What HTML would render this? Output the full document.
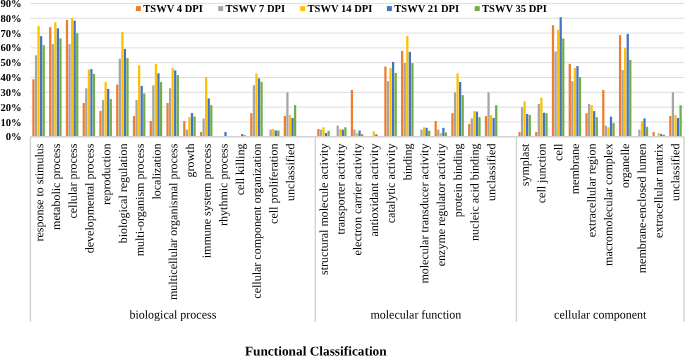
<!DOCTYPE html><html><head><meta charset="utf-8"><title>Functional Classification</title>
<style>html,body{margin:0;padding:0;background:#fff}svg{display:block;will-change:transform}text{font-family:"Liberation Serif","Times New Roman",serif;fill:#000;text-rendering:geometricPrecision}</style></head><body>
<svg width="685" height="356" viewBox="0 0 685 356">
<rect width="685" height="356" fill="#fff"/>
<g stroke="#DDDDDD" stroke-width="1" fill="none">
<line x1="30.4" y1="121.94" x2="684.04" y2="121.94"/>
<line x1="30.4" y1="107.12" x2="684.04" y2="107.12"/>
<line x1="30.4" y1="92.31" x2="684.04" y2="92.31"/>
<line x1="30.4" y1="77.49" x2="684.04" y2="77.49"/>
<line x1="30.4" y1="62.67" x2="684.04" y2="62.67"/>
<line x1="30.4" y1="47.86" x2="684.04" y2="47.86"/>
<line x1="30.4" y1="33.05" x2="684.04" y2="33.05"/>
<line x1="30.4" y1="18.23" x2="684.04" y2="18.23"/>
<line x1="30.4" y1="3.41" x2="684.04" y2="3.41"/>
</g>
<rect x="32.34" y="79.27" width="2.25" height="57.48" fill="#ED7D31"/>
<rect x="34.90" y="55.27" width="2.25" height="81.48" fill="#A5A5A5"/>
<rect x="37.46" y="25.93" width="2.25" height="110.82" fill="#FFC000"/>
<rect x="40.02" y="36.16" width="2.25" height="100.59" fill="#4472C4"/>
<rect x="42.58" y="45.19" width="2.25" height="91.56" fill="#70AD47"/>
<rect x="49.10" y="27.12" width="2.25" height="109.63" fill="#ED7D31"/>
<rect x="51.66" y="44.01" width="2.25" height="92.74" fill="#A5A5A5"/>
<rect x="54.22" y="22.23" width="2.25" height="114.52" fill="#FFC000"/>
<rect x="56.78" y="28.30" width="2.25" height="108.45" fill="#4472C4"/>
<rect x="59.34" y="38.38" width="2.25" height="98.37" fill="#70AD47"/>
<rect x="65.86" y="20.01" width="2.25" height="116.74" fill="#ED7D31"/>
<rect x="68.42" y="44.01" width="2.25" height="92.74" fill="#A5A5A5"/>
<rect x="70.98" y="18.08" width="2.25" height="118.67" fill="#FFC000"/>
<rect x="73.54" y="20.60" width="2.25" height="116.15" fill="#4472C4"/>
<rect x="76.10" y="33.19" width="2.25" height="103.56" fill="#70AD47"/>
<rect x="82.62" y="102.97" width="2.25" height="33.78" fill="#ED7D31"/>
<rect x="85.18" y="88.30" width="2.25" height="48.45" fill="#A5A5A5"/>
<rect x="87.74" y="69.49" width="2.25" height="67.26" fill="#FFC000"/>
<rect x="90.30" y="69.05" width="2.25" height="67.70" fill="#4472C4"/>
<rect x="92.86" y="73.93" width="2.25" height="62.82" fill="#70AD47"/>
<rect x="99.38" y="110.97" width="2.25" height="25.78" fill="#ED7D31"/>
<rect x="101.94" y="100.01" width="2.25" height="36.74" fill="#A5A5A5"/>
<rect x="104.50" y="81.93" width="2.25" height="54.82" fill="#FFC000"/>
<rect x="107.06" y="88.90" width="2.25" height="47.85" fill="#4472C4"/>
<rect x="109.62" y="98.97" width="2.25" height="37.78" fill="#70AD47"/>
<rect x="116.14" y="84.60" width="2.25" height="52.15" fill="#ED7D31"/>
<rect x="118.70" y="58.67" width="2.25" height="78.08" fill="#A5A5A5"/>
<rect x="121.26" y="32.01" width="2.25" height="104.74" fill="#FFC000"/>
<rect x="123.82" y="48.90" width="2.25" height="87.85" fill="#4472C4"/>
<rect x="126.38" y="58.08" width="2.25" height="78.67" fill="#70AD47"/>
<rect x="132.90" y="116.01" width="2.25" height="20.74" fill="#ED7D31"/>
<rect x="135.46" y="100.01" width="2.25" height="36.74" fill="#A5A5A5"/>
<rect x="138.02" y="65.34" width="2.25" height="71.41" fill="#FFC000"/>
<rect x="140.58" y="85.93" width="2.25" height="50.82" fill="#4472C4"/>
<rect x="143.14" y="93.49" width="2.25" height="43.26" fill="#70AD47"/>
<rect x="149.66" y="121.05" width="2.25" height="15.70" fill="#ED7D31"/>
<rect x="152.22" y="85.34" width="2.25" height="51.41" fill="#A5A5A5"/>
<rect x="154.78" y="63.86" width="2.25" height="72.89" fill="#FFC000"/>
<rect x="157.34" y="73.34" width="2.25" height="63.41" fill="#4472C4"/>
<rect x="159.90" y="81.93" width="2.25" height="54.82" fill="#70AD47"/>
<rect x="166.42" y="102.97" width="2.25" height="33.78" fill="#ED7D31"/>
<rect x="168.98" y="88.30" width="2.25" height="48.45" fill="#A5A5A5"/>
<rect x="171.54" y="68.01" width="2.25" height="68.74" fill="#FFC000"/>
<rect x="174.10" y="70.38" width="2.25" height="66.37" fill="#4472C4"/>
<rect x="176.66" y="74.97" width="2.25" height="61.78" fill="#70AD47"/>
<rect x="183.18" y="121.05" width="2.25" height="15.70" fill="#ED7D31"/>
<rect x="185.74" y="129.64" width="2.25" height="7.11" fill="#A5A5A5"/>
<rect x="188.30" y="117.05" width="2.25" height="19.70" fill="#FFC000"/>
<rect x="190.86" y="113.05" width="2.25" height="23.70" fill="#4472C4"/>
<rect x="193.42" y="116.60" width="2.25" height="20.15" fill="#70AD47"/>
<rect x="199.94" y="132.01" width="2.25" height="4.74" fill="#ED7D31"/>
<rect x="202.50" y="118.38" width="2.25" height="18.37" fill="#A5A5A5"/>
<rect x="205.06" y="77.05" width="2.25" height="59.70" fill="#FFC000"/>
<rect x="207.62" y="98.38" width="2.25" height="38.37" fill="#4472C4"/>
<rect x="210.18" y="105.19" width="2.25" height="31.56" fill="#70AD47"/>
<rect x="224.38" y="132.01" width="2.25" height="4.74" fill="#4472C4"/>
<rect x="241.14" y="134.08" width="2.25" height="2.67" fill="#4472C4"/>
<rect x="243.70" y="135.27" width="2.25" height="1.48" fill="#70AD47"/>
<rect x="250.22" y="113.19" width="2.25" height="23.56" fill="#ED7D31"/>
<rect x="252.78" y="85.19" width="2.25" height="51.56" fill="#A5A5A5"/>
<rect x="255.34" y="73.34" width="2.25" height="63.41" fill="#FFC000"/>
<rect x="257.90" y="78.38" width="2.25" height="58.37" fill="#4472C4"/>
<rect x="260.46" y="81.79" width="2.25" height="54.96" fill="#70AD47"/>
<rect x="269.54" y="129.64" width="2.25" height="7.11" fill="#A5A5A5"/>
<rect x="272.10" y="129.05" width="2.25" height="7.70" fill="#FFC000"/>
<rect x="274.66" y="130.53" width="2.25" height="6.22" fill="#4472C4"/>
<rect x="277.22" y="130.53" width="2.25" height="6.22" fill="#70AD47"/>
<rect x="283.74" y="116.01" width="2.25" height="20.74" fill="#ED7D31"/>
<rect x="286.30" y="92.31" width="2.25" height="44.45" fill="#A5A5A5"/>
<rect x="288.86" y="115.12" width="2.25" height="21.63" fill="#FFC000"/>
<rect x="291.42" y="117.93" width="2.25" height="18.82" fill="#4472C4"/>
<rect x="293.98" y="105.19" width="2.25" height="31.56" fill="#70AD47"/>
<rect x="317.26" y="129.05" width="2.25" height="7.70" fill="#ED7D31"/>
<rect x="319.82" y="129.64" width="2.25" height="7.11" fill="#A5A5A5"/>
<rect x="322.38" y="127.27" width="2.25" height="9.48" fill="#FFC000"/>
<rect x="324.94" y="133.05" width="2.25" height="3.70" fill="#4472C4"/>
<rect x="327.50" y="130.82" width="2.25" height="5.93" fill="#70AD47"/>
<rect x="336.58" y="125.64" width="2.25" height="11.11" fill="#A5A5A5"/>
<rect x="339.14" y="129.05" width="2.25" height="7.70" fill="#FFC000"/>
<rect x="341.70" y="129.64" width="2.25" height="7.11" fill="#4472C4"/>
<rect x="344.26" y="127.27" width="2.25" height="9.48" fill="#70AD47"/>
<rect x="350.78" y="89.93" width="2.25" height="46.82" fill="#ED7D31"/>
<rect x="353.34" y="129.64" width="2.25" height="7.11" fill="#A5A5A5"/>
<rect x="355.90" y="133.05" width="2.25" height="3.70" fill="#FFC000"/>
<rect x="358.46" y="130.53" width="2.25" height="6.22" fill="#4472C4"/>
<rect x="361.02" y="134.08" width="2.25" height="2.67" fill="#70AD47"/>
<rect x="372.66" y="131.27" width="2.25" height="5.48" fill="#FFC000"/>
<rect x="375.22" y="134.38" width="2.25" height="2.37" fill="#4472C4"/>
<rect x="384.30" y="66.53" width="2.25" height="70.22" fill="#ED7D31"/>
<rect x="386.86" y="81.19" width="2.25" height="55.56" fill="#A5A5A5"/>
<rect x="389.42" y="68.01" width="2.25" height="68.74" fill="#FFC000"/>
<rect x="391.98" y="61.93" width="2.25" height="74.82" fill="#4472C4"/>
<rect x="394.54" y="72.90" width="2.25" height="63.85" fill="#70AD47"/>
<rect x="401.06" y="50.97" width="2.25" height="85.78" fill="#ED7D31"/>
<rect x="403.62" y="62.97" width="2.25" height="73.78" fill="#A5A5A5"/>
<rect x="406.18" y="35.86" width="2.25" height="100.89" fill="#FFC000"/>
<rect x="408.74" y="51.86" width="2.25" height="84.89" fill="#4472C4"/>
<rect x="411.30" y="63.12" width="2.25" height="73.63" fill="#70AD47"/>
<rect x="420.38" y="129.64" width="2.25" height="7.11" fill="#A5A5A5"/>
<rect x="422.94" y="127.27" width="2.25" height="9.48" fill="#FFC000"/>
<rect x="425.50" y="127.86" width="2.25" height="8.89" fill="#4472C4"/>
<rect x="428.06" y="130.82" width="2.25" height="5.93" fill="#70AD47"/>
<rect x="434.58" y="121.05" width="2.25" height="15.70" fill="#ED7D31"/>
<rect x="437.14" y="129.64" width="2.25" height="7.11" fill="#A5A5A5"/>
<rect x="439.70" y="133.05" width="2.25" height="3.70" fill="#FFC000"/>
<rect x="442.26" y="127.86" width="2.25" height="8.89" fill="#4472C4"/>
<rect x="444.82" y="132.45" width="2.25" height="4.30" fill="#70AD47"/>
<rect x="451.34" y="113.19" width="2.25" height="23.56" fill="#ED7D31"/>
<rect x="453.90" y="92.31" width="2.25" height="44.45" fill="#A5A5A5"/>
<rect x="456.46" y="73.34" width="2.25" height="63.41" fill="#FFC000"/>
<rect x="459.02" y="81.93" width="2.25" height="54.82" fill="#4472C4"/>
<rect x="461.58" y="95.12" width="2.25" height="41.63" fill="#70AD47"/>
<rect x="468.10" y="124.01" width="2.25" height="12.74" fill="#ED7D31"/>
<rect x="470.66" y="118.38" width="2.25" height="18.37" fill="#A5A5A5"/>
<rect x="473.22" y="111.12" width="2.25" height="25.63" fill="#FFC000"/>
<rect x="475.78" y="111.56" width="2.25" height="25.19" fill="#4472C4"/>
<rect x="478.34" y="117.19" width="2.25" height="19.56" fill="#70AD47"/>
<rect x="484.86" y="116.01" width="2.25" height="20.74" fill="#ED7D31"/>
<rect x="487.42" y="92.31" width="2.25" height="44.45" fill="#A5A5A5"/>
<rect x="489.98" y="115.12" width="2.25" height="21.63" fill="#FFC000"/>
<rect x="492.54" y="117.93" width="2.25" height="18.82" fill="#4472C4"/>
<rect x="495.10" y="105.19" width="2.25" height="31.56" fill="#70AD47"/>
<rect x="518.38" y="132.01" width="2.25" height="4.74" fill="#ED7D31"/>
<rect x="520.94" y="107.12" width="2.25" height="29.63" fill="#A5A5A5"/>
<rect x="523.50" y="101.34" width="2.25" height="35.41" fill="#FFC000"/>
<rect x="526.06" y="113.93" width="2.25" height="22.82" fill="#4472C4"/>
<rect x="528.62" y="114.97" width="2.25" height="21.78" fill="#70AD47"/>
<rect x="535.14" y="132.01" width="2.25" height="4.74" fill="#ED7D31"/>
<rect x="537.70" y="104.01" width="2.25" height="32.74" fill="#A5A5A5"/>
<rect x="540.26" y="97.64" width="2.25" height="39.11" fill="#FFC000"/>
<rect x="542.82" y="112.75" width="2.25" height="24.00" fill="#4472C4"/>
<rect x="545.38" y="113.19" width="2.25" height="23.56" fill="#70AD47"/>
<rect x="551.90" y="25.19" width="2.25" height="111.56" fill="#ED7D31"/>
<rect x="554.46" y="51.56" width="2.25" height="85.19" fill="#A5A5A5"/>
<rect x="557.02" y="29.93" width="2.25" height="106.82" fill="#FFC000"/>
<rect x="559.58" y="17.19" width="2.25" height="119.56" fill="#4472C4"/>
<rect x="562.14" y="38.53" width="2.25" height="98.22" fill="#70AD47"/>
<rect x="568.66" y="63.86" width="2.25" height="72.89" fill="#ED7D31"/>
<rect x="571.22" y="81.19" width="2.25" height="55.56" fill="#A5A5A5"/>
<rect x="573.78" y="68.01" width="2.25" height="68.74" fill="#FFC000"/>
<rect x="576.34" y="66.08" width="2.25" height="70.67" fill="#4472C4"/>
<rect x="578.90" y="77.19" width="2.25" height="59.56" fill="#70AD47"/>
<rect x="585.42" y="113.19" width="2.25" height="23.56" fill="#ED7D31"/>
<rect x="587.98" y="104.01" width="2.25" height="32.74" fill="#A5A5A5"/>
<rect x="590.54" y="105.19" width="2.25" height="31.56" fill="#FFC000"/>
<rect x="593.10" y="111.12" width="2.25" height="25.63" fill="#4472C4"/>
<rect x="595.66" y="117.19" width="2.25" height="19.56" fill="#70AD47"/>
<rect x="602.18" y="89.93" width="2.25" height="46.82" fill="#ED7D31"/>
<rect x="604.74" y="125.64" width="2.25" height="11.11" fill="#A5A5A5"/>
<rect x="607.30" y="127.42" width="2.25" height="9.33" fill="#FFC000"/>
<rect x="609.86" y="116.60" width="2.25" height="20.15" fill="#4472C4"/>
<rect x="612.42" y="122.97" width="2.25" height="13.78" fill="#70AD47"/>
<rect x="618.94" y="35.12" width="2.25" height="101.63" fill="#ED7D31"/>
<rect x="621.50" y="69.93" width="2.25" height="66.82" fill="#A5A5A5"/>
<rect x="624.06" y="47.86" width="2.25" height="88.89" fill="#FFC000"/>
<rect x="626.62" y="33.93" width="2.25" height="102.82" fill="#4472C4"/>
<rect x="629.18" y="59.86" width="2.25" height="76.89" fill="#70AD47"/>
<rect x="638.26" y="129.64" width="2.25" height="7.11" fill="#A5A5A5"/>
<rect x="640.82" y="121.05" width="2.25" height="15.70" fill="#FFC000"/>
<rect x="643.38" y="118.38" width="2.25" height="18.37" fill="#4472C4"/>
<rect x="645.94" y="126.82" width="2.25" height="9.93" fill="#70AD47"/>
<rect x="652.46" y="132.01" width="2.25" height="4.74" fill="#ED7D31"/>
<rect x="657.58" y="133.05" width="2.25" height="3.70" fill="#FFC000"/>
<rect x="660.14" y="134.08" width="2.25" height="2.67" fill="#4472C4"/>
<rect x="662.70" y="134.68" width="2.25" height="2.07" fill="#70AD47"/>
<rect x="669.22" y="116.01" width="2.25" height="20.74" fill="#ED7D31"/>
<rect x="671.78" y="92.31" width="2.25" height="44.45" fill="#A5A5A5"/>
<rect x="674.34" y="115.12" width="2.25" height="21.63" fill="#FFC000"/>
<rect x="676.90" y="117.93" width="2.25" height="18.82" fill="#4472C4"/>
<rect x="679.46" y="105.19" width="2.25" height="31.56" fill="#70AD47"/>
<g stroke="#D2D2D2" stroke-width="1.4" fill="none">
<line x1="30.4" y1="136.75" x2="684.04" y2="136.75"/>
<line x1="30.40" y1="136.75" x2="30.40" y2="321.7"/>
<line x1="315.32" y1="136.75" x2="315.32" y2="321.7"/>
<line x1="516.44" y1="136.75" x2="516.44" y2="321.7"/>
<line x1="684.04" y1="136.75" x2="684.04" y2="321.7"/>
</g>
<g font-size="10.6" font-weight="bold" text-anchor="end">
<text x="21.6" y="140">0%</text>
<text x="21.6" y="126">10%</text>
<text x="21.6" y="111">20%</text>
<text x="21.6" y="96">30%</text>
<text x="21.6" y="81">40%</text>
<text x="21.6" y="66">50%</text>
<text x="21.6" y="51">60%</text>
<text x="21.6" y="37">70%</text>
<text x="21.6" y="22">80%</text>
<text x="21.6" y="7">90%</text>
</g>
<g font-size="10.55" font-weight="bold">
<rect x="135.9" y="6.1" width="5" height="5" fill="#ED7D31"/>
<text x="143.25" y="12">TSWV 4 DPI</text>
<rect x="218.2" y="6.1" width="5" height="5" fill="#A5A5A5"/>
<text x="225.55" y="12">TSWV 7 DPI</text>
<rect x="300.2" y="6.1" width="5" height="5" fill="#FFC000"/>
<text x="307.55" y="12">TSWV 14 DPI</text>
<rect x="386.9" y="6.1" width="5" height="5" fill="#4472C4"/>
<text x="394.25" y="12">TSWV 21 DPI</text>
<rect x="474.7" y="6.1" width="5" height="5" fill="#70AD47"/>
<text x="482.05" y="12">TSWV 35 DPI</text>
</g>
<g font-size="12" text-anchor="end">
<text transform="translate(43.30 143.6) rotate(-89.95)">response to stimulus</text>
<text transform="translate(60.04 143.6) rotate(-89.95)">metabolic process</text>
<text transform="translate(76.77 143.6) rotate(-89.95)">cellular process</text>
<text transform="translate(93.51 143.6) rotate(-89.95)">developmental process</text>
<text transform="translate(110.25 143.6) rotate(-89.95)">reproduction</text>
<text transform="translate(126.98 143.6) rotate(-89.95)">biological regulation</text>
<text transform="translate(143.72 143.6) rotate(-89.95)">multi-organism process</text>
<text transform="translate(160.46 143.6) rotate(-89.95)">localization</text>
<text transform="translate(177.20 143.6) rotate(-89.95)">multicellular organismal process</text>
<text transform="translate(193.93 143.6) rotate(-89.95)">growth</text>
<text transform="translate(210.67 143.6) rotate(-89.95)">immune system process</text>
<text transform="translate(227.41 143.6) rotate(-89.95)">rhythmic process</text>
<text transform="translate(244.14 143.6) rotate(-89.95)">cell killing</text>
<text transform="translate(260.88 143.6) rotate(-89.95)">cellular component organization</text>
<text transform="translate(277.62 143.6) rotate(-89.95)">cell proliferation</text>
<text transform="translate(294.35 143.6) rotate(-89.95)">unclassified</text>
<text transform="translate(327.83 143.6) rotate(-89.95)">structural molecule activity</text>
<text transform="translate(344.57 143.6) rotate(-89.95)">transporter activity</text>
<text transform="translate(361.30 143.6) rotate(-89.95)">electron carrier activity</text>
<text transform="translate(378.04 143.6) rotate(-89.95)">antioxidant activity</text>
<text transform="translate(394.78 143.6) rotate(-89.95)">catalytic activity</text>
<text transform="translate(411.51 143.6) rotate(-89.95)">binding</text>
<text transform="translate(428.25 143.6) rotate(-89.95)">molecular transducer activity</text>
<text transform="translate(444.99 143.6) rotate(-89.95)">enzyme regulator activity</text>
<text transform="translate(461.72 143.6) rotate(-89.95)">protein binding</text>
<text transform="translate(478.46 143.6) rotate(-89.95)">nucleic acid binding</text>
<text transform="translate(495.20 143.6) rotate(-89.95)">unclassified</text>
<text transform="translate(528.67 143.6) rotate(-89.95)">symplast</text>
<text transform="translate(545.41 143.6) rotate(-89.95)">cell junction</text>
<text transform="translate(562.15 143.6) rotate(-89.95)">cell</text>
<text transform="translate(578.88 143.6) rotate(-89.95)">membrane</text>
<text transform="translate(595.62 143.6) rotate(-89.95)">extracellular region</text>
<text transform="translate(612.36 143.6) rotate(-89.95)">macromolecular complex</text>
<text transform="translate(629.09 143.6) rotate(-89.95)">organelle</text>
<text transform="translate(645.83 143.6) rotate(-89.95)">membrane-enclosed lumen</text>
<text transform="translate(662.57 143.6) rotate(-89.95)">extracellular matrix</text>
<text transform="translate(679.31 143.6) rotate(-89.95)">unclassified</text>
</g>
<g font-size="12" text-anchor="middle">
<text transform="translate(172.86 318.55) rotate(0.04)">biological process</text>
<text transform="translate(415.88 318.55) rotate(0.04)">molecular function</text>
<text transform="translate(600.24 318.55) rotate(0.04)">cellular component</text>
</g>
<text transform="translate(315.8 355.55) rotate(0.03)" font-size="13.33" font-weight="bold" text-anchor="middle">Functional Classification</text>
</svg></body></html>
